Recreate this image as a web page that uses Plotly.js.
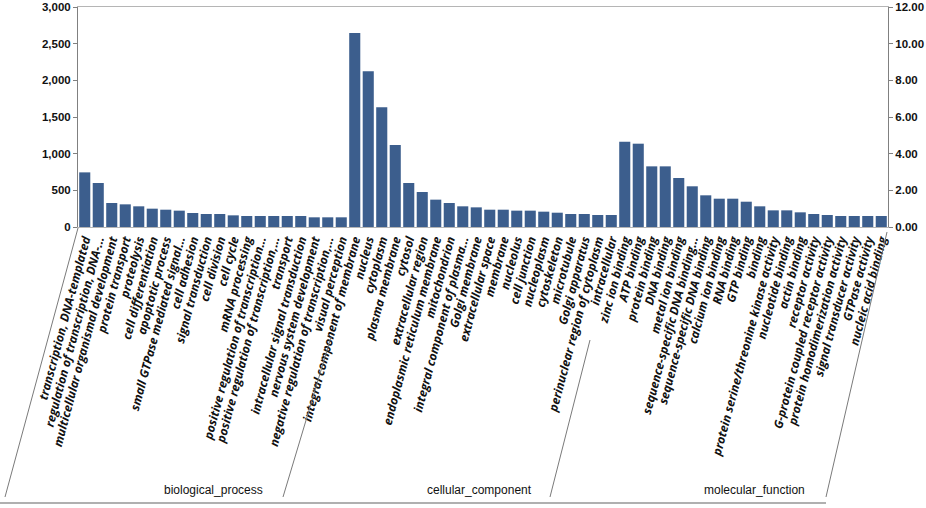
<!DOCTYPE html>
<html>
<head>
<meta charset="utf-8">
<script src="https://cdn.plot.ly/plotly-3.0.1.min.js"></script>
<style>
	html, body { margin: 0; padding: 0; background: #fff; }
	#chart { width: 926px; height: 508px; }
</style>
</head>
<body>
<div id="chart"></div>
<script>
// GO terms, three groups of 20
var bpTerms = [
	'transcription, DNA-templated', 'regulation of transcription, DNA-...', 'multicellular organismal development',
	'protein transport', 'proteolysis', 'cell differentiation', 'apoptotic process', 'small GTPase mediated signal...',
	'cell adhesion', 'signal transduction', 'cell division', 'cell cycle', 'mRNA processing',
	'positive regulation of transcription...', 'positive regulation of transcription,...', 'transport',
	'intracellular signal transduction', 'nervous system development', 'negative regulation of transcription,...',
	'visual perception'
];
var bpCounts = [745, 600, 327, 309, 282, 250, 236, 223, 191, 177, 177, 159, 150, 150, 150, 150, 150, 132, 132, 132];

var ccTerms = [
	'integral component of membrane', 'nucleus', 'cytoplasm', 'plasma membrane', 'cytosol', 'extracellular region',
	'endoplasmic reticulum membrane', 'mitochondrion', 'integral component of plasma...', 'Golgi membrane',
	'extracellular space', 'membrane', 'nucleolus', 'cell junction', 'nucleoplasm', 'cytoskeleton',
	'microtubule', 'Golgi apparatus', 'perinuclear region of cytoplasm', 'intracellular'
];
var ccCounts = [2645, 2123, 1632, 1118, 600, 477, 373, 327, 282, 268, 236, 236, 223, 223, 209, 195, 177, 177, 164, 164];

var mfTerms = [
	'zinc ion binding', 'ATP binding', 'protein binding', 'DNA binding', 'metal ion binding',
	'sequence-specific DNA binding...', 'sequence-specific DNA binding', 'calcium ion binding', 'RNA binding',
	'GTP binding', 'binding', 'protein serine/threonine kinase activity', 'nucleotide binding', 'actin binding',
	'receptor activity', 'G-protein coupled receptor activity', 'protein homodimerization activity',
	'signal transducer activity', 'GTPase activity', 'nucleic acid binding'
];
var mfCounts = [1164, 1136, 827, 827, 668, 555, 432, 386, 386, 345, 282, 227, 227, 200, 177, 164, 150, 150, 150, 150];

var groupNames = ['biological_process', 'cellular_component', 'molecular_function'];

var leftTicks = [0, 500, 1000, 1500, 2000, 2500, 3000];
var rightTicks = [0, 2, 4, 6, 8, 10, 12];


function drawChart(id) {
	var chartDiv = document.getElementById(id);

	var terms = bpTerms.concat(ccTerms, mfTerms);
	var counts = bpCounts.concat(ccCounts, mfCounts);

	var data = [
		{
			type: 'bar',
			x: terms,
			y: counts,
			marker: {color: '#3c5e8d'},
			hoverinfo: 'x+y',
			showlegend: false
		},
		// empty trace so the right (percent) axis gets drawn
		{
			type: 'scatter',
			mode: 'markers',
			x: [terms[0]],
			y: [null],
			yaxis: 'y2',
			hoverinfo: 'skip',
			showlegend: false
		}
	];

	// plot area is 78..888 px wide, 7..227 px tall; convert px to paper units
	function px(v) { return (v - 78) / 810; }
	function py(v) { return (227 - v) / 220; }

	var lineStyle = {color: '#7a7a7a', width: 1};
	var shapes = [
		{type: 'line', xref: 'paper', yref: 'paper', x0: px(78), y0: py(228), x1: px(5), y1: py(497), line: lineStyle},
		{type: 'line', xref: 'paper', yref: 'paper', x0: px(331), y0: py(337), x1: px(283), y1: py(497), line: lineStyle},
		{type: 'line', xref: 'paper', yref: 'paper', x0: px(590), y0: py(340), x1: px(550), y1: py(497), line: lineStyle},
		{type: 'line', xref: 'paper', yref: 'paper', x0: px(887), y0: py(232), x1: px(826), y1: py(497), line: lineStyle},
		{type: 'line', xref: 'paper', yref: 'paper', x0: px(0), y0: py(503), x1: px(826), y1: py(503), line: {color: '#b0b0b0', width: 2}}
	];

	var groupX = [213, 479, 754];
	var annotations = [];
	for (var i = 0; i < groupNames.length; i++) {
		annotations.push({
			xref: 'paper', yref: 'paper',
			x: px(groupX[i]), y: py(490),
			text: groupNames[i],
			showarrow: false,
			xanchor: 'center', yanchor: 'middle',
			font: {family: 'Liberation Sans Narrow, Liberation Sans, Arial', size: 12, color: '#111'}
		});
	}

	var numFont = {family: 'Liberation Sans Narrow, Liberation Sans, Arial', size: 11.5, color: '#111', weight: 'bold'};

	var layout = {
		width: 926,
		height: 508,
		margin: {l: 78, r: 38, t: 7, b: 281},
		paper_bgcolor: '#ffffff',
		plot_bgcolor: '#ffffff',
		bargap: 0.18,
		xaxis: {
			type: 'category',
			range: [-0.5, terms.length - 0.5],
			tickmode: 'linear',
			dtick: 1,
			tickangle: -75,
			ticks: '',
			showgrid: false,
			showline: true,
			mirror: true,
			linecolor: '#b5b5b5',
			linewidth: 1,
			tickfont: {family: 'Open Sans, DejaVu Sans', size: 12, color: '#111', style: 'italic', weight: 'bold'},
			automargin: false,
			fixedrange: true
		},
		yaxis: {
			range: [0, 3000],
			tickmode: 'array',
			tickvals: leftTicks,
			tickformat: ',d',
			showgrid: false,
			zeroline: false,
			showline: true,
			linecolor: '#808080',
			ticks: 'outside',
			ticklen: 4,
			tickcolor: '#808080',
			tickfont: numFont,
			ticklabeloverflow: 'allow',
			automargin: false,
			fixedrange: true
		},
		yaxis2: {
			overlaying: 'y',
			side: 'right',
			range: [0, 12],
			tickmode: 'array',
			tickvals: rightTicks,
			tickformat: '.2f',
			showgrid: false,
			zeroline: false,
			showline: true,
			linecolor: '#808080',
			ticks: 'outside',
			ticklen: 4,
			tickcolor: '#808080',
			tickfont: numFont,
			ticklabeloverflow: 'allow',
			automargin: false,
			fixedrange: true
		},
		shapes: shapes,
		annotations: annotations
	};

	Plotly.newPlot(chartDiv, data, layout, {displayModeBar: false, staticPlot: true});
}

drawChart('chart');
</script>
</body>
</html>
